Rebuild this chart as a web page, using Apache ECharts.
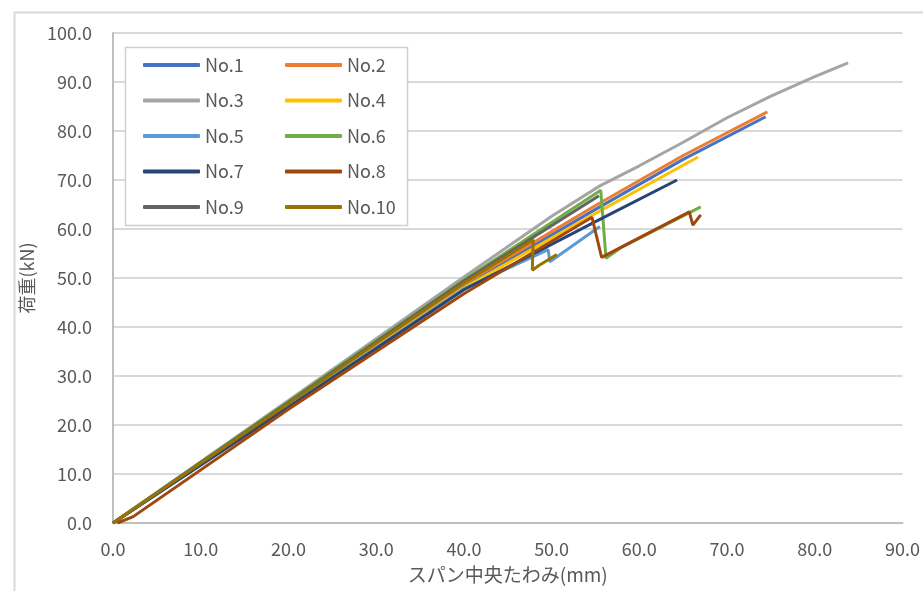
<!DOCTYPE html>
<html>
<head>
<meta charset="utf-8">
<script src="https://cdn.jsdelivr.net/npm/echarts@6/dist/echarts.min.js"></script>
<style>
  html, body { margin: 0; padding: 0; background: #fff; }
  #chart { width: 923px; height: 591px; }
</style>
</head>
<body>
<div id="chart"></div>
<script>
// 荷重-たわみ 曲線 (x: mm, y: kN)
var seriesNames = ['No.1', 'No.2', 'No.3', 'No.4', 'No.5', 'No.6', 'No.7', 'No.8', 'No.9', 'No.10'];
var seriesColors = ['#4472C4', '#ED7D31', '#A5A5A5', '#FFC000', '#5B9BD5', '#70AD47', '#264478', '#9E480E', '#636363', '#997300'];

var no1 = [[0, 0], [20, 24.1], [40, 48.3], [55, 64.0], [65, 74.2], [74.4, 82.9]];
var no2 = [[0, 0], [20, 24.3], [40, 48.8], [55, 64.8], [65, 75.0], [74.6, 83.9]];
var no3 = [[0, 0], [20, 25.0], [40, 50.2], [50, 62.6], [55.5, 68.8], [60, 72.9], [65, 77.7], [70, 82.7], [75, 87.1], [80, 91.1], [83.8, 93.9]];
var no4 = [[0, 0], [20, 23.9], [40, 48.0], [55, 63.2], [66.7, 74.7]];
var no5 = [[0, 0], [20, 23.8], [40, 47.8], [49.6, 55.8], [49.8, 53.3], [55.5, 60.5]];
var no6 = [[0, 0], [20, 24.8], [40, 49.6], [55.6, 67.9], [56.2, 54.0], [58, 56.3], [67, 64.5]];
var no7 = [[0, 0], [20, 23.6], [40, 47.6], [55, 61.5], [64.3, 70.0]];
var no8 = [[0.5, 0], [2.3, 1.3], [20, 23.2], [40, 46.8], [54.6, 62.4], [55.7, 54.2], [65.7, 63.5], [66.1, 60.8], [67.0, 62.9]];
var no9 = [[0, 0], [20, 24.6], [40, 49.4], [55.4, 66.8]];
var no10 = [[0, 0], [20, 24.4], [40, 49.0], [47.9, 57.8], [47.8, 51.6], [48.5, 52.5], [50.6, 54.8]];

var seriesData = [no1, no2, no3, no4, no5, no6, no7, no8, no9, no10];

var xTicks = { min: 0, max: 90, interval: 10 };
var yTicks = { min: 0, max: 100, interval: 10 };

var fontFamily = '"Noto Sans CJK JP", "Noto Sans", sans-serif';
var textColor = '#595959';

var chart = echarts.init(document.getElementById('chart'), null, { renderer: 'canvas' });

var series = seriesNames.map(function(name, i) {
	return {
		name: name,
		type: 'line',
		data: seriesData[i],
		showSymbol: false,
		smooth: false,
		animation: false,
		lineStyle: { color: seriesColors[i], width: 3 },
		itemStyle: { color: seriesColors[i] }
	};
});

var legendBase = {
	orient: 'vertical',
	itemWidth: 57,
	itemHeight: 4,
	itemGap: 15.5,
	icon: 'roundRect',
	textStyle: { color: textColor, fontSize: 18, fontFamily: fontFamily, lineHeight: 20 }
};

var option = {
	backgroundColor: '#fff',
	animation: false,
	grid: { left: 113, right: 15, top: 33, bottom: 68 },
	graphic: [{
		type: 'rect',
		shape: { x: 14.5, y: 12.5, width: 1000, height: 1000 },
		style: { fill: 'none', stroke: '#d9d9d9', lineWidth: 2 },
		z: 0
	}, {
		type: 'rect',
		shape: { x: 125.5, y: 47.5, width: 282, height: 178 },
		style: { fill: '#fff', stroke: '#d0d0d0', lineWidth: 1.5 },
		z: 50
	}],
	legend: [
		Object.assign({}, legendBase, { left: 138, top: 50, data: ['No.1', 'No.3', 'No.5', 'No.7', 'No.9'], z: 60 }),
		Object.assign({}, legendBase, { left: 280, top: 50, data: ['No.2', 'No.4', 'No.6', 'No.8', 'No.10'], z: 60 })
	],
	xAxis: {
		type: 'value',
		min: xTicks.min,
		max: xTicks.max,
		interval: xTicks.interval,
		name: 'スパン中央たわみ(mm)',
		nameLocation: 'middle',
		nameGap: 42,
		nameTextStyle: { color: textColor, fontSize: 19, fontFamily: fontFamily },
		axisLine: { show: true, lineStyle: { color: '#bfbfbf', width: 2 } },
		axisTick: { show: false },
		splitLine: { show: false },
		axisLabel: {
			color: textColor, fontSize: 18, fontFamily: fontFamily, margin: 17,
			formatter: function(v) { return v.toFixed(1); }
		}
	},
	yAxis: {
		type: 'value',
		min: yTicks.min,
		max: yTicks.max,
		interval: yTicks.interval,
		name: '荷重(kN)',
		nameLocation: 'middle',
		nameRotate: 90,
		nameGap: 70,
		nameTextStyle: { color: textColor, fontSize: 18, fontFamily: fontFamily },
		axisLine: { show: true, lineStyle: { color: '#bfbfbf', width: 2 } },
		axisTick: { show: false },
		splitLine: { show: true, lineStyle: { color: '#d9d9d9', width: 2 } },
		axisLabel: {
			color: textColor, fontSize: 18, fontFamily: fontFamily, margin: 21,
			formatter: function(v) { return v.toFixed(1); }
		}
	},
	series: series
};

chart.setOption(option);
</script>
</body>
</html>
